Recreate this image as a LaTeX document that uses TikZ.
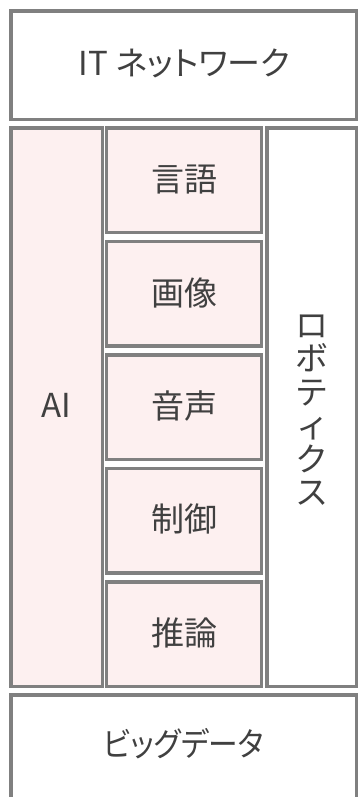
\documentclass[tikz,border=0pt]{standalone}
\usepackage{fontspec}
\setmainfont{Noto Sans CJK JP}[RawFeature=+palt]
\definecolor{bd}{RGB}{128,128,128}
\definecolor{pk}{RGB}{253,240,240}
\definecolor{tx}{RGB}{64,64,64}
\begin{document}
\begin{tikzpicture}[x=1pt,y=-1pt,
  box/.style={draw=bd,line width=3.5pt,inner sep=0pt,outer sep=0pt,fill=white},
  pbox/.style={box,fill=pk},
  lbl/.style={text=tx,font=\fontsize{33}{34}\selectfont,inner sep=0pt,text height=0.88em,text depth=0.12em},
  vlbl/.style={text=tx,font=\fontsize{33}{33.5}\selectfont,inner sep=0pt,align=center}]
\useasboundingbox (0,0) rectangle (358,797);
\fill[white] (0,0) rectangle (358,797);
% top
\node[box,minimum width=345.5pt,minimum height=108.5pt] (net) at (183.75,65.25) {};
\node[lbl] (nettext) at (184.5,72) {IT ネットワーク};
% AI column
\node[pbox,minimum width=91.5pt,minimum height=558.5pt] (ai) at (56.75,407.25) {};
\node[lbl] (aitext) at (56.75,414) {AI};
% middle column
\node[pbox,minimum width=155pt,minimum height=104.5pt] (m1) at (184,180.25) {};
\node[pbox,minimum width=155pt,minimum height=104.5pt] (m2) at (184,293.75) {};
\node[pbox,minimum width=155pt,minimum height=104.5pt] (m3) at (184,407.25) {};
\node[pbox,minimum width=155pt,minimum height=104.5pt] (m4) at (184,520.75) {};
\node[pbox,minimum width=155pt,minimum height=104.5pt] (m5) at (184,634.25) {};
\node[lbl] (t1) at (184,188) {言語};
\node[lbl] (t2) at (184,302) {画像};
\node[lbl] (t3) at (184,414.5) {音声};
\node[lbl] (t4) at (184,528) {制御};
\node[lbl] (t5) at (184,641.5) {推論};
% right column
\node[box,minimum width=89.5pt,minimum height=558.5pt] (robo) at (311.75,407.25) {};
\node[vlbl] (robotext) at (311.75,410) {ロ\\ボ\\テ\\ィ\\ク\\ス};
% bottom
\node[box,minimum width=345.5pt,minimum height=125pt] (bd) at (183.75,757.5) {};
\node[lbl,xscale=0.9] (bdtext) at (184,753) {ビッグデータ};
\end{tikzpicture}
\end{document}
